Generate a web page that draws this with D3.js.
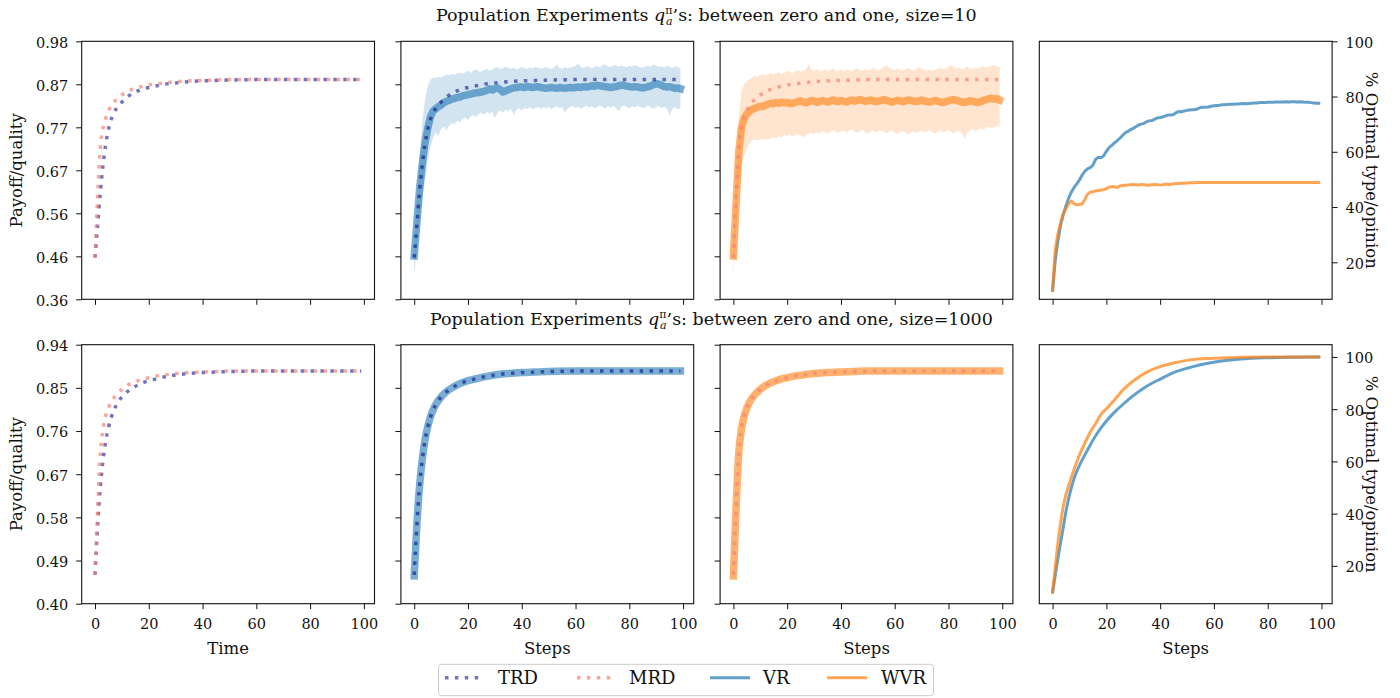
<!DOCTYPE html>
<html><head><meta charset="utf-8">
<script src="https://cdn.jsdelivr.net/npm/d3@7"></script>
<style>
body{margin:0;background:#fff}
svg{display:block}
text{font-family:'DejaVu Serif',serif;fill:#111}
</style></head>
<body><svg id="c" width="1400" height="698"></svg>
<script>
// ---------------- DATA ----------------
const xTicks = [0, 20, 40, 60, 80, 100];
const topYTickValues = [0.36, 0.4633, 0.5667, 0.67, 0.7733, 0.8767, 0.98];
const topYTickLabels = ["0.36", "0.46", "0.56", "0.67", "0.77", "0.87", "0.98"];
const botYTickValues = [0.40, 0.49, 0.58, 0.67, 0.76, 0.85, 0.94];
const botYTickLabels = ["0.40", "0.49", "0.58", "0.67", "0.76", "0.85", "0.94"];
const pctTicks = [20, 40, 60, 80, 100];
const seriesNames = ["TRD", "MRD", "VR", "WVR"];

// smooth series, sampled steps
const smoothSteps = [0,1,2,3,4,5,6,7,8,10,12,14,16,18,20,23,26,30,35,40,45,50,60,70,80,90,99];
const trdTop = [.460,.540,.620,.683,.733,.768,.792,.808,.819,.834,.846,.855,.861,.866,.869,.873,.877,.880,.883,.885,.886,.887,.888,.888,.888,.888,.888];
const mrdTop = [.460,.610,.725,.772,.795,.812,.825,.834,.840,.851,.859,.865,.869,.872,.875,.878,.880,.883,.885,.886,.887,.888,.888,.888,.888,.888,.888];
const trdBot = [.460,.565,.645,.700,.740,.767,.788,.803,.815,.831,.842,.850,.856,.861,.865,.869,.873,.877,.880,.882,.883,.884,.885,.885,.885,.885,.885];
const mrdBot = [.460,.600,.715,.765,.792,.808,.820,.829,.836,.847,.855,.861,.865,.869,.871,.875,.877,.880,.882,.883,.884,.885,.885,.885,.885,.885,.885];
const vrBot  = [.458,.566,.646,.701,.741,.768,.789,.804,.815,.831,.842,.850,.856,.861,.865,.869,.873,.877,.880,.882,.883,.884,.885,.885,.885,.885,.885];
const wvrBot = [.458,.601,.714,.764,.791,.808,.820,.829,.836,.847,.855,.861,.865,.869,.871,.875,.877,.880,.882,.883,.884,.885,.885,.885,.885,.885,.885];
const vrPctBot  = [10,16.5,23,29,35,41,46,50,53.5,58.5,62.5,66.3,69.8,72.8,75.5,78.8,81.7,85.2,88.8,91.5,94.0,95.7,98.0,99.2,99.7,99.9,100];
const wvrPctBot = [10,19.5,29,36.5,43,47.5,50.8,54,57,62.5,67,71.2,74.5,78,80.2,83.5,87.2,90.8,94.2,96.3,97.7,98.7,99.5,99.9,100,100,100];

// noisy series, every step 0..99
const steps = d3.range(100);
const vrMeanTop = [
.464,.545,.625,.685,.735,.770,.798,.812,.818,.823,
.827,.832,.836,.838,.841,.843,.845,.846,.849,.850,
.852,.853,.855,.856,.857,.858,.860,.862,.866,.863,
.866,.868,.864,.858,.861,.864,.866,.868,.869,.870,
.870,.869,.871,.870,.869,.870,.871,.869,.868,.867,
.868,.869,.868,.867,.869,.868,.867,.868,.869,.868,
.869,.870,.869,.871,.870,.871,.873,.872,.874,.873,
.872,.871,.870,.869,.870,.871,.873,.875,.874,.872,
.871,.870,.871,.870,.869,.868,.869,.871,.873,.876,
.878,.877,.874,.871,.870,.871,.869,.867,.868,.866];
const vrUpperTop = [
.505,.600,.700,.785,.840,.872,.888,.893,.891,.895,
.893,.897,.900,.898,.902,.899,.903,.905,.902,.906,
.909,.904,.910,.913,.908,.907,.911,.914,.909,.912,
.916,.918,.913,.915,.919,.916,.914,.917,.912,.915,
.918,.916,.913,.917,.915,.919,.917,.914,.916,.918,
.915,.913,.917,.924,.916,.914,.918,.915,.917,.919,
.921,.926,.918,.916,.920,.918,.915,.919,.921,.917,
.922,.925,.920,.918,.921,.923,.919,.922,.920,.917,
.921,.919,.923,.920,.918,.916,.920,.922,.919,.924,
.921,.918,.920,.917,.921,.919,.916,.920,.918,.914];
const vrLowerTop = [
.415,.485,.548,.600,.645,.690,.725,.748,.760,.752,
.770,.775,.766,.778,.783,.781,.789,.785,.793,.796,
.790,.799,.802,.797,.805,.808,.803,.810,.806,.811,
.795,.809,.814,.808,.816,.812,.818,.803,.815,.819,
.813,.820,.817,.822,.816,.820,.823,.818,.821,.819,
.823,.817,.821,.824,.819,.822,.808,.818,.822,.825,
.820,.823,.818,.822,.826,.821,.824,.819,.823,.826,
.822,.818,.824,.821,.825,.820,.812,.822,.826,.823,
.819,.824,.821,.825,.822,.819,.823,.826,.821,.818,
.822,.825,.820,.823,.819,.801,.818,.822,.816,.819];
const wvrMeanTop = [
.464,.590,.715,.772,.795,.805,.812,.817,.819,.822,
.824,.823,.827,.829,.831,.830,.833,.831,.834,.832,
.833,.830,.831,.833,.835,.837,.834,.832,.835,.838,
.836,.833,.835,.838,.836,.834,.837,.839,.836,.835,
.838,.836,.834,.837,.839,.836,.838,.840,.838,.836,
.837,.839,.837,.835,.836,.838,.840,.838,.836,.834,
.836,.838,.837,.835,.837,.839,.838,.836,.835,.837,
.839,.837,.835,.834,.836,.838,.836,.834,.833,.835,
.837,.839,.840,.838,.836,.834,.833,.835,.837,.836,
.834,.833,.835,.838,.840,.842,.843,.841,.842,.839];
const wvrUpperTop = [
.500,.660,.800,.860,.877,.884,.889,.893,.897,.895,
.899,.902,.898,.901,.904,.900,.903,.906,.902,.905,
.909,.906,.903,.908,.911,.907,.910,.913,.926,.912,
.909,.913,.910,.908,.912,.909,.911,.914,.910,.908,
.912,.909,.913,.911,.908,.912,.915,.911,.909,.913,
.910,.912,.916,.913,.910,.914,.919,.922,.916,.913,
.911,.914,.912,.909,.913,.916,.912,.910,.915,.918,
.914,.911,.909,.912,.908,.911,.914,.917,.913,.915,
.919,.922,.918,.915,.917,.913,.916,.919,.915,.913,
.917,.914,.918,.920,.917,.919,.921,.923,.920,.918];
const wvrLowerTop = [
.415,.530,.630,.680,.705,.720,.735,.742,.744,.741,
.745,.743,.746,.744,.748,.750,.747,.752,.749,.755,
.752,.756,.751,.754,.758,.753,.749,.754,.757,.760,
.756,.762,.758,.765,.761,.757,.763,.767,.762,.760,
.764,.766,.761,.765,.768,.763,.760,.764,.767,.762,
.758,.763,.766,.761,.764,.767,.762,.759,.763,.766,
.761,.757,.762,.765,.760,.756,.761,.764,.759,.762,
.766,.761,.764,.767,.762,.758,.763,.766,.761,.764,
.767,.762,.759,.763,.766,.760,.744,.762,.765,.769,
.764,.768,.771,.767,.772,.775,.771,.774,.777,.773];
const vrPctTop = [
9.8,21.0,28.0,33.5,37.5,40.5,43.3,45.5,47.1,48.4,
49.8,51.6,53.0,53.8,54.3,55.2,57.3,58.0,57.8,58.6,
60.2,61.5,62.3,63.2,64.0,64.9,65.9,66.9,67.4,68.0,
68.5,69.1,69.7,70.0,70.3,70.9,71.2,71.3,71.8,72.3,
72.4,72.6,73.0,73.3,73.3,73.5,74.2,74.6,74.5,74.8,
75.0,75.1,75.2,75.3,75.6,76.0,76.1,76.1,76.2,76.5,
76.7,76.8,76.8,77.0,77.0,77.1,77.2,77.2,77.3,77.3,
77.4,77.5,77.4,77.5,77.6,77.7,77.7,77.8,77.8,77.8,
77.9,77.9,77.9,78.0,78.0,78.0,78.0,78.1,78.0,78.1,
78.1,78.0,78.1,78.0,77.9,77.9,77.8,77.7,77.6,77.6];
const wvrPctTop = [
9.8,24.5,30.5,34.5,37.5,39.5,41.3,42.2,41.2,40.8,
40.9,41.1,42.8,44.6,45.4,45.6,45.8,46.0,46.2,46.3,
46.6,47.2,47.4,47.3,47.1,47.6,47.8,47.9,48.0,48.1,
48.2,48.1,48.0,48.2,48.1,47.9,48.0,48.1,48.2,48.1,
48.0,48.1,48.3,48.2,48.2,48.4,48.5,48.5,48.6,48.6,
48.7,48.8,48.8,48.8,48.9,48.9,48.9,48.9,48.9,48.9,
48.9,48.9,48.9,48.9,48.9,48.9,48.9,48.9,48.9,48.9,
48.9,48.9,48.9,48.9,48.9,48.9,48.9,48.9,48.9,48.9,
48.9,48.9,48.9,48.9,48.9,48.9,48.9,48.9,48.9,48.9,
48.9,48.9,48.9,48.9,48.9,48.9,48.9,48.9,48.9,48.9];

// ---------------- LAYOUT / STYLE ----------------
const svg = d3.select('#c');
const PW = 292.8, LEFT0 = 81.7, STEP = 319.2;
const rows = [{top: 41.3, bottom: 299.3}, {top: 344.7, bottom: 603.7}];
const C = {
  trd: {stroke: '#00008b', op: 0.55},
  mrd: {stroke: '#fa8072', op: 0.7},
  vr: '#1f77b4', wvr: '#ff7f0e'
};
const TICK = 5.5, TICKFONT = '14.5px';

function xScale(col) {
  const L = LEFT0 + col * STEP;
  return d3.scaleLinear().domain([-4.95, 103.95]).range([L, L + PW]);
}
const yTop = d3.scaleLinear().domain([0.36, 0.98]).range([rows[0].bottom, rows[0].top]);
const yBot = d3.scaleLinear().domain([0.40, 0.94]).range([rows[1].bottom, rows[1].top]);
const pTop = d3.scaleLinear().domain([6.6, 100]).range([rows[0].bottom, rows[0].top]);
const pBot = d3.scaleLinear().domain([5.5, 104.7]).range([rows[1].bottom, rows[1].top]);

function pts(xs, ys) { return xs.map((t, i) => [t, ys[i]]); }

function dotted(g, x, y, xs, ys, st, curve) {
  g.append('path').datum(pts(xs, ys))
    .attr('d', d3.line().x(d => x(d[0])).y(d => y(d[1])).curve(curve || d3.curveMonotoneX))
    .attr('fill', 'none').attr('stroke', st.stroke).attr('stroke-opacity', st.op)
    .attr('stroke-width', 3.5).attr('stroke-dasharray', '3.5,6.4').attr('stroke-linecap', 'butt');
}
function solid(g, x, y, xs, ys, color, op, w, curve) {
  g.append('path').datum(pts(xs, ys))
    .attr('d', d3.line().x(d => x(d[0])).y(d => y(d[1])).curve(curve || d3.curveLinear))
    .attr('fill', 'none').attr('stroke', color).attr('stroke-opacity', op)
    .attr('stroke-width', w).attr('stroke-linejoin', 'round').attr('stroke-linecap', 'square');
}
function band(g, x, y, xs, lo, hi, color) {
  g.append('path').datum(xs.map((t, i) => [t, lo[i], hi[i]]))
    .attr('d', d3.area().x(d => x(d[0])).y0(d => y(d[1])).y1(d => y(d[2])))
    .attr('fill', color).attr('fill-opacity', 0.2).attr('stroke', 'none');
}

function styleAxis(sel) {
  sel.select('.domain').remove();
  sel.selectAll('.tick line').attr('stroke', '#111').attr('stroke-width', 1);
  sel.selectAll('.tick text').style('font-family', "'DejaVu Serif',serif").style('font-size', TICKFONT).attr('fill', '#111');
}

function frame(g, x, row) {
  const r = x.range();
  g.append('rect').attr('x', r[0]).attr('y', row.top).attr('width', r[1] - r[0]).attr('height', row.bottom - row.top)
    .attr('fill', 'none').attr('stroke', '#111').attr('stroke-width', 1.1);
}

function axes(g, col, rowIdx, x, y, yVals, yLabels, pctScale) {
  const row = rows[rowIdx];
  const xa = d3.axisBottom(x).tickValues(xTicks).tickSize(TICK).tickPadding(9.5);
  if (rowIdx === 0) xa.tickFormat(() => '');
  g.append('g').attr('transform', `translate(0,${row.bottom})`).call(xa).call(styleAxis);
  const L = x.range()[0], R = x.range()[1];
  if (col < 3) {
    const ya = d3.axisLeft(y).tickValues(yVals).tickSize(TICK).tickPadding(7.9)
      .tickFormat((d, i) => col === 0 ? yLabels[i] : '');
    const ag = g.append('g').attr('transform', `translate(${L},0)`).call(ya).call(styleAxis);
    ag.selectAll('.tick text').attr('dy', '0.4em');
  } else {
    const ya = d3.axisRight(pctScale).tickValues(pctTicks).tickSize(TICK).tickPadding(7.9);
    const ag = g.append('g').attr('transform', `translate(${R},0)`).call(ya).call(styleAxis);
    ag.selectAll('.tick text').attr('dy', '0.4em');
  }
}

const g = svg.append('g');

// ---------- TOP ROW ----------
{
  const row = 0;
  let x = xScale(0);
  dotted(g, x, yTop, smoothSteps, trdTop, C.trd);
  dotted(g, x, yTop, smoothSteps, mrdTop, C.mrd);
  axes(g, 0, row, x, yTop, topYTickValues, topYTickLabels); frame(g, x, rows[row]);

  x = xScale(1);
  band(g, x, yTop, steps, vrLowerTop, vrUpperTop, C.vr);
  solid(g, x, yTop, steps, vrMeanTop, C.vr, 0.6, 7.5);
  dotted(g, x, yTop, smoothSteps, trdTop, C.trd);
  axes(g, 1, row, x, yTop, topYTickValues, topYTickLabels); frame(g, x, rows[row]);

  x = xScale(2);
  band(g, x, yTop, steps, wvrLowerTop, wvrUpperTop, C.wvr);
  solid(g, x, yTop, steps, wvrMeanTop, C.wvr, 0.6, 7.5);
  dotted(g, x, yTop, smoothSteps, mrdTop, C.mrd);
  axes(g, 2, row, x, yTop, topYTickValues, topYTickLabels); frame(g, x, rows[row]);

  x = xScale(3);
  solid(g, x, pTop, steps, vrPctTop, C.vr, 0.7, 3);
  solid(g, x, pTop, steps, wvrPctTop, C.wvr, 0.7, 3);
  axes(g, 3, row, x, yTop, null, null, pTop); frame(g, x, rows[row]);
}
// ---------- BOTTOM ROW ----------
{
  const row = 1;
  let x = xScale(0);
  dotted(g, x, yBot, smoothSteps, trdBot, C.trd);
  dotted(g, x, yBot, smoothSteps, mrdBot, C.mrd);
  axes(g, 0, row, x, yBot, botYTickValues, botYTickLabels); frame(g, x, rows[row]);

  x = xScale(1);
  solid(g, x, yBot, smoothSteps, vrBot, C.vr, 0.6, 7.5, d3.curveMonotoneX);
  dotted(g, x, yBot, smoothSteps, trdBot, C.trd);
  axes(g, 1, row, x, yBot, botYTickValues, botYTickLabels); frame(g, x, rows[row]);

  x = xScale(2);
  solid(g, x, yBot, smoothSteps, wvrBot, C.wvr, 0.6, 7.5, d3.curveMonotoneX);
  dotted(g, x, yBot, smoothSteps, mrdBot, C.mrd);
  axes(g, 2, row, x, yBot, botYTickValues, botYTickLabels); frame(g, x, rows[row]);

  x = xScale(3);
  solid(g, x, pBot, smoothSteps, vrPctBot, C.vr, 0.7, 3, d3.curveMonotoneX);
  solid(g, x, pBot, smoothSteps, wvrPctBot, C.wvr, 0.7, 3, d3.curveMonotoneX);
  axes(g, 3, row, x, yBot, null, null, pBot); frame(g, x, rows[row]);
}

// ---------- LABELS ----------
const LBL = '16.5px';
[0, 1].forEach(r => {
  const cy = (rows[r].top + rows[r].bottom) / 2;
  g.append('text').attr('transform', `translate(22,${cy}) rotate(-90)`).attr('text-anchor', 'middle')
    .style('font-size', LBL).text('Payoff/quality');
  g.append('text').attr('transform', `translate(1366,${cy}) rotate(90)`).attr('text-anchor', 'middle')
    .style('font-size', LBL).text('% Optimal type/opinion');
});
['Time', 'Steps', 'Steps', 'Steps'].forEach((t, c) => {
  const r = xScale(c).range();
  g.append('text').attr('x', (r[0] + r[1]) / 2).attr('y', 654).attr('text-anchor', 'middle')
    .style('font-size', LBL).text(t);
});

function title(xp, yp, size) {
  const t = g.append('text').attr('x', xp).attr('y', yp).style('font-size', '17.5px');
  t.append('tspan').text('Population Experiments ');
  t.append('tspan').style('font-style', 'italic').text('q');
  t.append('tspan').attr('dy', -7).style('font-size', '11px').text('π');
  t.append('tspan').attr('dx', -6.5).attr('dy', 11).style('font-size', '11px').style('font-style', 'italic').text('a');
  t.append('tspan').attr('dy', -4).text("’s: between zero and one, size=" + size);
}
title(436, 21, '10');
title(430, 324.5, '1000');

// ---------- LEGEND ----------
const lg = g.append('g');
lg.append('rect').attr('x', 438.5).attr('y', 664.3).attr('width', 495).attr('height', 31.4).attr('rx', 3)
  .attr('fill', '#fff').attr('fill-opacity', 0.8).attr('stroke', '#cccccc').attr('stroke-width', 1);
const legItems = [
  {x0: 445, x1: 480, tx: 498, type: 'dot', st: C.trd},
  {x0: 577, x1: 612, tx: 629, type: 'dot', st: C.mrd},
  {x0: 710, x1: 750, tx: 763, type: 'line', color: C.vr},
  {x0: 827, x1: 867, tx: 881, type: 'line', color: C.wvr}
];
legItems.forEach((it, i) => {
  const ly = 677.7;
  const p = lg.append('line').attr('x1', it.x0).attr('x2', it.x1).attr('y1', ly).attr('y2', ly);
  if (it.type === 'dot') {
    p.attr('stroke', it.st.stroke).attr('stroke-opacity', it.st.op).attr('stroke-width', 3.5).attr('stroke-dasharray', '3.5,6.4');
  } else {
    p.attr('stroke', it.color).attr('stroke-opacity', 0.7).attr('stroke-width', 3);
  }
  lg.append('text').attr('x', it.tx).attr('y', 684).style('font-size', '18px').text(seriesNames[i]);
});
</script>
</body></html>
